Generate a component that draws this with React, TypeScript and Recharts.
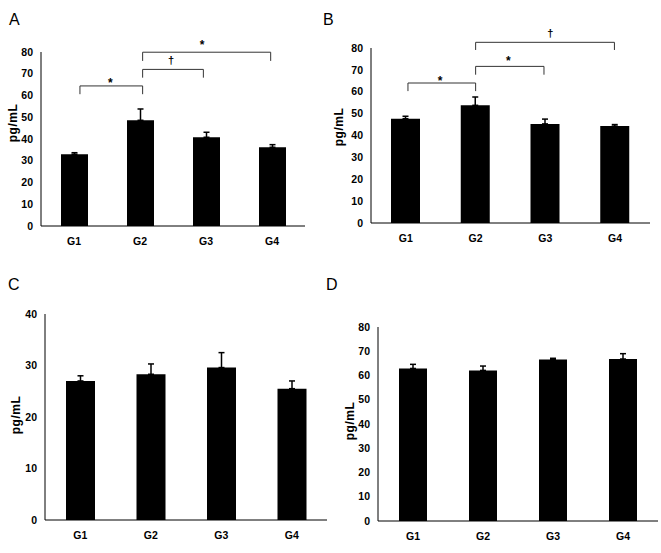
import { BarChart, Bar, XAxis, YAxis, ErrorBar, ReferenceLine, ReferenceDot } from "recharts";

const groups = ["G1", "G2", "G3", "G4"];

const meanA = [33.0, 48.6, 40.8, 36.2];
const semA = [0.7, 5.2, 2.3, 1.2];
const meanB = [47.7, 53.8, 45.3, 44.3];
const semB = [1.1, 3.8, 2.2, 0.7];
const meanC = [27.0, 28.3, 29.6, 25.5];
const semC = [1.0, 2.0, 2.9, 1.5];
const meanD = [62.9, 62.1, 66.6, 66.8];
const semD = [1.7, 1.8, 0.5, 2.2];

const ticks80 = [0, 10, 20, 30, 40, 50, 60, 70, 80];
const ticks40 = [0, 10, 20, 30, 40];

// significance brackets: x in category units (0..4), y in pg/mL
type Bracket = { x1: number; x2: number; y: number; foot: number; mark: string; mx: number; my: number };

const bracketsA: Bracket[] = [
  { x1: 0.59, x2: 1.54, y: 64.4, foot: 60.6, mark: "*", mx: 1.05, my: 67.1 },
  { x1: 1.54, x2: 2.46, y: 72.0, foot: 68.2, mark: "†", mx: 1.97, my: 76.3 },
  { x1: 1.54, x2: 3.48, y: 79.9, foot: 75.9, mark: "*", mx: 2.44, my: 84.6 },
];
const bracketsB: Bracket[] = [
  { x1: 0.53, x2: 1.5, y: 64.0, foot: 60.3, mark: "*", mx: 0.99, my: 66.5 },
  { x1: 1.5, x2: 2.48, y: 71.6, foot: 67.8, mark: "*", mx: 1.97, my: 75.6 },
  { x1: 1.5, x2: 3.49, y: 82.6, foot: 79.1, mark: "†", mx: 2.57, my: 87.0 },
];

const font = '"Liberation Sans", Arial, sans-serif';
const tickStyle = { fill: "#000", fontSize: 10.5, fontWeight: "bold", fontFamily: font };

interface PanelProps {
  letter: string;
  mean: number[];
  sem: number[];
  ticks: number[];
  brackets: Bracket[];
  left: number;
  top: number;
  width: number;
  height: number;
  margin: { top: number; right: number; bottom: number; left: number };
  barSize: number;
  letterAt: [number, number];
  labelAt: [number, number];
}

function Panel(p: PanelProps) {
  const data = groups.map((g, i) => ({ name: g, pos: i + 0.5, value: p.mean[i], err: [0, p.sem[i]] }));
  const max = p.ticks[p.ticks.length - 1];
  return (
    <>
      <div style={{ position: "absolute", left: p.left, top: p.top }}>
        <BarChart width={p.width} height={p.height} data={data} margin={p.margin}>
          <XAxis dataKey="name" tickLine={false} axisLine={{ stroke: "#000" }} tickMargin={6} tick={tickStyle} />
          <XAxis xAxisId="n" dataKey="pos" type="number" domain={[0, 4]} allowDataOverflow hide />
          <YAxis
            width={30}
            domain={[0, max]}
            ticks={p.ticks}
            interval={0}
            tickLine={false}
            axisLine={{ stroke: "#000" }}
            tick={tickStyle}
          />
          <Bar dataKey="value" fill="#000" barSize={p.barSize} isAnimationActive={false}>
            <ErrorBar dataKey="err" direction="y" width={3} stroke="#000" strokeWidth={1.5} isAnimationActive={false} />
          </Bar>
          {p.brackets.map((b, i) => [
            <ReferenceLine key={`h${i}`} xAxisId="n" ifOverflow="visible" stroke="#333" strokeWidth={1}
              segment={[{ x: b.x1, y: b.y }, { x: b.x2, y: b.y }]} />,
            <ReferenceLine key={`l${i}`} xAxisId="n" ifOverflow="visible" stroke="#333" strokeWidth={1}
              segment={[{ x: b.x1, y: b.foot }, { x: b.x1, y: b.y }]} />,
            <ReferenceLine key={`r${i}`} xAxisId="n" ifOverflow="visible" stroke="#333" strokeWidth={1}
              segment={[{ x: b.x2, y: b.foot }, { x: b.x2, y: b.y }]} />,
            <ReferenceDot key={`m${i}`} xAxisId="n" x={b.mx} y={b.my} r={0} ifOverflow="visible"
              shape={(s: any) => (
                <text x={s.cx} y={s.cy + (b.mark === "*" ? 7 : 4)} textAnchor="middle"
                  fontSize={b.mark === "*" ? 12 : 11} fontWeight="bold" fontFamily={font} fill="#000">
                  {b.mark}
                </text>
              )} />,
          ])}
        </BarChart>
      </div>
      <div style={{ position: "absolute", left: p.letterAt[0], top: p.letterAt[1], fontSize: 16, lineHeight: 1, fontFamily: font }}>
        {p.letter}
      </div>
      <div style={{
        position: "absolute", left: p.labelAt[0], top: p.labelAt[1], fontSize: 12, fontWeight: "bold",
        fontFamily: font, whiteSpace: "nowrap", lineHeight: 1, letterSpacing: 0.5,
        transform: "translate(-50%, -50%) rotate(-90deg)",
      }}>
        pg/mL
      </div>
    </>
  );
}

export default function App() {
  return (
    <div style={{ position: "absolute", left: 0, top: 0, width: 661, height: 553, background: "#fff", overflow: "hidden" }}>
      <Panel letter="A" mean={meanA} sem={semA} ticks={ticks80} brackets={bracketsA}
        left={0} top={0} width={330} height={260}
        margin={{ top: 52, right: 25, bottom: 4, left: 11 }} barSize={27}
        letterAt={[9, 12]} labelAt={[13, 123]} />
      <Panel letter="B" mean={meanB} sem={semB} ticks={ticks80} brackets={bracketsB}
        left={330} top={0} width={331} height={260}
        margin={{ top: 48, right: 11, bottom: 7, left: 11 }} barSize={29}
        letterAt={[323, 12]} labelAt={[339, 127]} />
      <Panel letter="C" mean={meanC} sem={semC} ticks={ticks40} brackets={[]}
        left={0} top={270} width={330} height={283}
        margin={{ top: 44, right: 3, bottom: 3, left: 15 }} barSize={29}
        letterAt={[8, 277]} labelAt={[16, 415]} />
      <Panel letter="D" mean={meanD} sem={semD} ticks={ticks80} brackets={[]}
        left={330} top={270} width={331} height={283}
        margin={{ top: 57, right: 3, bottom: 2, left: 18 }} barSize={28}
        letterAt={[326, 277]} labelAt={[350, 421]} />
    </div>
  );
}
